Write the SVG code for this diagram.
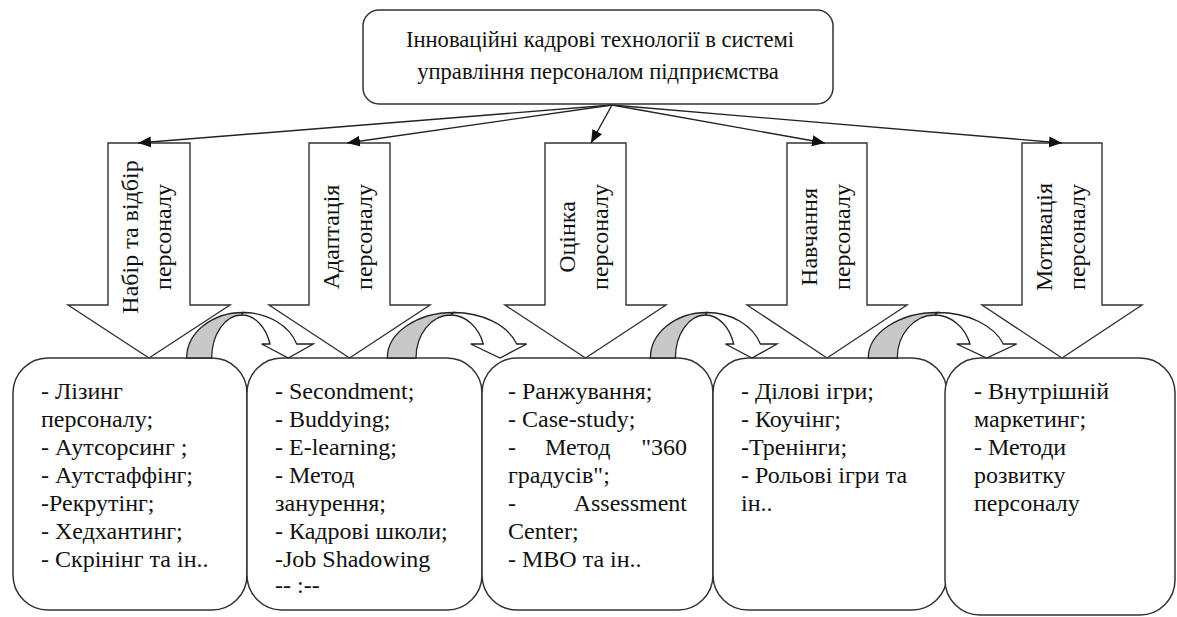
<svg xmlns="http://www.w3.org/2000/svg" width="1177" height="617" viewBox="0 0 1177 617" font-family="'Liberation Serif', Tinos, 'Times New Roman', Times, 'DejaVu Serif', serif">
<style>
text{fill:#111;}
.t{font-size:22.6px;}
.b{font-size:24px;}
.v{font-size:24px;text-anchor:middle;}
.box{fill:#fff;stroke:#333;stroke-width:1.5;}
.blk{fill:#fff;stroke:#333;stroke-width:1.4;stroke-linejoin:miter;}
.cw{fill:#fff;stroke:#222;stroke-width:1.3;stroke-linejoin:miter;}
.cg{fill:#c8c8c8;stroke:#222;stroke-width:1.3;}
.con{fill:none;stroke:#222;stroke-width:1.4;}
</style>
<defs>
<marker id="ah" markerUnits="userSpaceOnUse" markerWidth="14" markerHeight="12" refX="13" refY="5.5" orient="auto">
<path d="M0,0 L13,5.5 L0,11 z" fill="#111"/>
</marker>
</defs>

<g id="box1">
<rect class="box" x="13" y="358" width="234" height="252" rx="35" ry="35"/>
<text class="b" x="41" y="399">- Лізинг</text>
<text class="b" x="41" y="427">персоналу;</text>
<text class="b" x="41" y="455">- Аутсорсинг ;</text>
<text class="b" x="41" y="483">- Аутстаффінг;</text>
<text class="b" x="41" y="511">-Рекрутінг;</text>
<text class="b" x="41" y="539">- Хедхантинг;</text>
<text class="b" x="41" y="567">- Скрінінг та ін..</text>
</g>
<g id="box2">
<rect class="box" x="247" y="358" width="235" height="252" rx="35" ry="35"/>
<text class="b" x="275" y="399">- Secondment;</text>
<text class="b" x="275" y="427">- Buddying;</text>
<text class="b" x="275" y="455">- E-learning;</text>
<text class="b" x="275" y="483">- Метод</text>
<text class="b" x="275" y="511">занурення;</text>
<text class="b" x="275" y="539">- Кадрові школи;</text>
<text class="b" x="275" y="567">-Job Shadowing</text>
<text class="b" x="275" y="593">-- :--</text>
</g>
<g id="box3">
<rect class="box" x="482" y="358" width="231" height="252" rx="35" ry="35"/>
<text class="b" x="508" y="399">- Ранжування;</text>
<text class="b" x="508" y="427">- Case-study;</text>
<text class="b" x="508" y="455">-</text>
<text class="b" x="545" y="455">Метод</text>
<text class="b" x="687" y="455" text-anchor="end">"360</text>
<text class="b" x="508" y="483">градусів";</text>
<text class="b" x="508" y="511">-</text>
<text class="b" x="687" y="511" text-anchor="end">Assessment</text>
<text class="b" x="508" y="539">Center;</text>
<text class="b" x="508" y="567">- МВО та ін..</text>
</g>
<g id="box4">
<rect class="box" x="713" y="358" width="234" height="252" rx="35" ry="35"/>
<text class="b" x="741" y="399">- Ділові ігри;</text>
<text class="b" x="741" y="427">- Коучінг;</text>
<text class="b" x="741" y="455">-Тренінги;</text>
<text class="b" x="741" y="483">- Рольові ігри та</text>
<text class="b" x="741" y="511">ін..</text>
</g>
<g id="box5">
<rect class="box" x="945" y="358" width="230" height="257" rx="35" ry="35"/>
<text class="b" x="974" y="399">- Внутрішній</text>
<text class="b" x="974" y="427">маркетинг;</text>
<text class="b" x="974" y="455">- Методи</text>
<text class="b" x="974" y="483">розвитку</text>
<text class="b" x="974" y="511">персоналу</text>
</g>

<g id="arrow1">
<polygon class="blk" points="108,143 190,143 190,305 230,305 149,358 68,305 108,305"/>
<text class="v" transform="translate(138,237) rotate(-90)">Набір та відбір</text>
<text class="v" transform="translate(171,237) rotate(-90)">персоналу</text>
</g>
<g id="arrow2">
<polygon class="blk" points="309,143 390,143 390,305 430,305 349.5,358 269,305 309,305"/>
<text class="v" transform="translate(339,237) rotate(-90)">Адаптація</text>
<text class="v" transform="translate(372,237) rotate(-90)">персоналу</text>
</g>
<g id="arrow3">
<polygon class="blk" points="545,143 626,143 626,305 666,305 585.5,358 505,305 545,305"/>
<text class="v" transform="translate(575,237) rotate(-90)">Оцінка</text>
<text class="v" transform="translate(608,237) rotate(-90)">персоналу</text>
</g>
<g id="arrow4">
<polygon class="blk" points="787,143 867,143 867,305 907,305 827,358 747,305 787,305"/>
<text class="v" transform="translate(817,237) rotate(-90)">Навчання</text>
<text class="v" transform="translate(850,237) rotate(-90)">персоналу</text>
</g>
<g id="arrow5">
<polygon class="blk" points="1022,143 1102,143 1102,305 1142,305 1062,358 982,305 1022,305"/>
<text class="v" transform="translate(1052,237) rotate(-90)">Мотивація</text>
<text class="v" transform="translate(1085,237) rotate(-90)">персоналу</text>
</g>

<g id="curved1">
<path class="cw" d="M243.1,312.5 A56.4,45.5 0 0 1 296.7,344 L313.3,344 L288.3,358 L261.7,344 L270,344 A30,43 0 0 0 241.7,315 Z"/>
<path class="cg" d="M186.7,358 A56.4,45.5 0 0 1 243.1,312.5 L241.7,315 A30,43 0 0 0 211.7,358 Z"/>
</g>
<g id="curved2">
<path class="cw" d="M453.6,312.5 A66.3,45.5 0 0 1 516.7,344 L526.7,344 L500,358 L470.7,344 L483.3,344 A34.6,43 0 0 0 450.6,315 Z"/>
<path class="cg" d="M387.3,358 A66.3,45.5 0 0 1 453.6,312.5 L450.6,315 A34.6,43 0 0 0 416,358 Z"/>
</g>
<g id="curved3">
<path class="cw" d="M706.8,312.5 A56.4,45.5 0 0 1 760.4,344 L777,344 L752,358 L725.4,344 L733.7,344 A30,43 0 0 0 705.4,315 Z"/>
<path class="cg" d="M650.4,358 A56.4,45.5 0 0 1 706.8,312.5 L705.4,315 A30,43 0 0 0 675.4,358 Z"/>
</g>
<g id="curved4">
<path class="cw" d="M937.5,312.5 A69.2,45.5 0 0 1 1003.3,344 L1016.7,344 L986.7,358 L956.7,344 L970,344 A37.4,43 0 0 0 934.7,315 Z"/>
<path class="cg" d="M868.3,358 A69.2,45.5 0 0 1 937.5,312.5 L934.7,315 A37.4,43 0 0 0 897.3,358 Z"/>
</g>

<g id="connectors">
<line class="con" x1="612" y1="105" x2="138" y2="143" marker-end="url(#ah)"/>
<line class="con" x1="612" y1="105" x2="347" y2="143" marker-end="url(#ah)"/>
<line class="con" x1="612" y1="105" x2="591" y2="143" marker-end="url(#ah)"/>
<line class="con" x1="612" y1="105" x2="825" y2="143" marker-end="url(#ah)"/>
<line class="con" x1="612" y1="105" x2="1062" y2="143" marker-end="url(#ah)"/>
</g>

<g id="top">
<rect class="box" x="363" y="10" width="470" height="94" rx="16" ry="16"/>
<text class="t" x="600" y="47" text-anchor="middle">Інноваційні кадрові технології в системі</text>
<text class="t" x="598" y="79" text-anchor="middle">управління персоналом підприємства</text>
</g>
</svg>
